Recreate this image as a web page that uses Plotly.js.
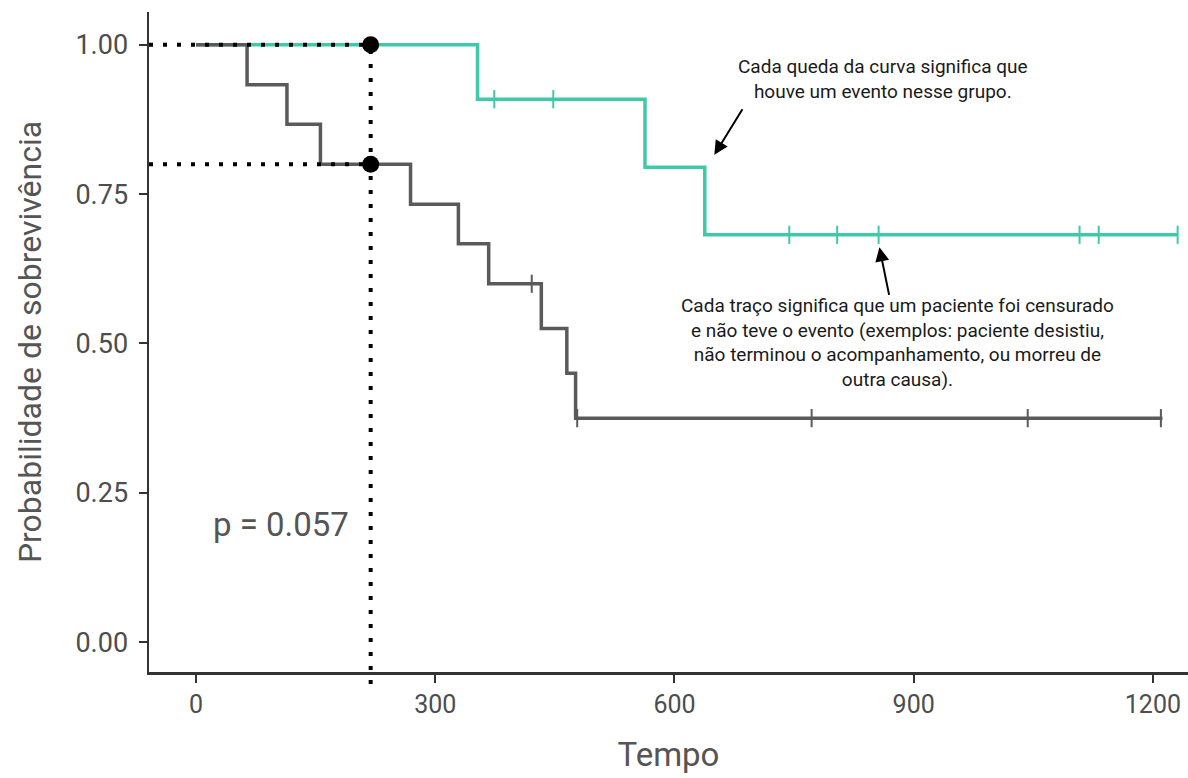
<!DOCTYPE html>
<html>
<head>
<meta charset="utf-8">
<script src="https://cdn.plot.ly/plotly-3.0.1.min.js"></script>
<style>html,body{margin:0;padding:0;background:#fff;}#chart{width:1188px;height:778px;}</style>
</head>
<body>
<div id="chart"></div>
<script>
// Group A (teal) Kaplan-Meier steps
const tealTimes = [0, 353, 563, 638, 1231];
const tealSurv = [1.0, 0.909, 0.795, 0.682, 0.682];
const tealCensor = [374, 448, 744, 804, 856, 1108, 1132, 1231];

// Group B (gray) Kaplan-Meier steps
const grayTimes = [0, 64, 114, 156, 269, 329, 367, 433, 465, 476, 1212];
const graySurv = [1.0, 0.933, 0.867, 0.8, 0.733, 0.667, 0.6, 0.525, 0.45, 0.375, 0.375];
const grayCensor = [421, 478, 772, 1043, 1210];

// Reference reading
const refTime = 219;
const refSurv = [1.0, 0.8];

const xTicks = [0, 300, 600, 900, 1200];
const yTicks = [0, 0.25, 0.5, 0.75, 1.0];
const yTickText = ['0.00', '0.25', '0.50', '0.75', '1.00'];

const pText = 'p = 0.057';
const note1 = 'Cada queda da curva significa que<br>houve um evento nesse grupo.';
const note2 = 'Cada traço significa que um paciente foi censurado<br>e não teve o evento (exemplos: paciente desistiu,<br>não terminou o acompanhamento, ou morreu de<br>outra causa).';

const TEAL = '#3ec9a9';
const GRAY = '#5a5a5a';
const xRange = [-59, 1244];
const yRange = [-0.05, 1.055];

function stepAt(times, surv, t) {
  let v = surv[0];
  for (let i = 0; i < times.length; i++) { if (times[i] <= t) v = surv[i]; }
  return v;
}

const traces = [
  {x: tealTimes, y: tealSurv, mode: 'lines', line: {shape: 'hv', color: TEAL, width: 3.5}, hoverinfo: 'skip'},
  {x: tealCensor, y: tealCensor.map(t => stepAt(tealTimes, tealSurv, t)), mode: 'markers',
   marker: {symbol: 'line-ns', size: 13, line: {color: TEAL, width: 2}}, hoverinfo: 'skip'},
  {x: grayTimes, y: graySurv, mode: 'lines', line: {shape: 'hv', color: GRAY, width: 3.5}, hoverinfo: 'skip'},
  {x: grayCensor, y: grayCensor.map(t => stepAt(grayTimes, graySurv, t)), mode: 'markers',
   marker: {symbol: 'line-ns', size: 13, line: {color: GRAY, width: 2}}, hoverinfo: 'skip'},
  {x: refSurv.map(() => refTime), y: refSurv, mode: 'markers',
   marker: {color: '#000', size: 17}, hoverinfo: 'skip'}
];

const dotLine = {color: '#000', width: 4, dash: '4px,10px'};
const shapes = [
  {type: 'line', xref: 'x', yref: 'y', x0: xRange[0], x1: refTime, y0: refSurv[0], y1: refSurv[0], line: dotLine, layer: 'above'},
  {type: 'line', xref: 'x', yref: 'y', x0: xRange[0], x1: refTime, y0: refSurv[1], y1: refSurv[1], line: dotLine, layer: 'above'},
  {type: 'line', xref: 'x', yref: 'paper', x0: refTime, x1: refTime,
   y0: -0.018, y1: (refSurv[0] - yRange[0]) / (yRange[1] - yRange[0]), line: dotLine, layer: 'above'}
];

const annFont = {family: 'Roboto', size: 19, color: '#1a1a1a'};
const annotations = [
  {x: 107, y: 0.197, xref: 'x', yref: 'y', text: pText, showarrow: false,
   font: {family: 'Roboto', size: 33, color: '#555'}},
  {x: 862, y: 0.943, xref: 'x', yref: 'y', text: note1, showarrow: false, font: annFont, align: 'center'},
  {x: 880, y: 0.502, xref: 'x', yref: 'y', text: note2, showarrow: false, font: annFont, align: 'center'},
  {x: 650, y: 0.816, xref: 'x', yref: 'y', text: '', showarrow: true, ax: 29, ay: -47,
   arrowhead: 2, arrowsize: 1.4, arrowwidth: 2, arrowcolor: '#000'},
  {x: 857, y: 0.661, xref: 'x', yref: 'y', text: '', showarrow: true, ax: 10, ay: 49,
   arrowhead: 2, arrowsize: 1.4, arrowwidth: 2, arrowcolor: '#000'}
];

const layout = {
  width: 1188, height: 778,
  margin: {l: 149, r: 0, t: 12, b: 106},
  paper_bgcolor: '#fff', plot_bgcolor: '#fff',
  showlegend: false,
  font: {family: 'Roboto', color: '#4d4d4d'},
  xaxis: {
    range: xRange, showgrid: false, zeroline: false,
    showline: true, linecolor: '#333', linewidth: 2.5,
    ticks: 'outside', ticklen: 8, tickwidth: 2, tickcolor: '#333',
    tickvals: xTicks, tickfont: {family: 'Roboto', size: 25, color: '#4d4d4d'},
    title: {text: 'Tempo', font: {family: 'Roboto', size: 33, color: '#555'}, standoff: 26},
    automargin: false
  },
  yaxis: {
    range: yRange, showgrid: false, zeroline: false,
    showline: true, linecolor: '#333', linewidth: 2.5,
    ticks: 'outside', ticklen: 8, tickwidth: 2, tickcolor: '#333',
    tickvals: yTicks, ticktext: yTickText, tickfont: {family: 'Roboto', size: 27, color: '#4d4d4d'},
    ticklabelstandoff: 5,
    title: {text: 'Probabilidade de sobrevivência', font: {family: 'Roboto', size: 32, color: '#555'}, standoff: 24},
    automargin: false
  },
  shapes: shapes,
  annotations: annotations
};

Plotly.newPlot('chart', traces, layout, {staticPlot: true, displayModeBar: false});
</script>
</body>
</html>
